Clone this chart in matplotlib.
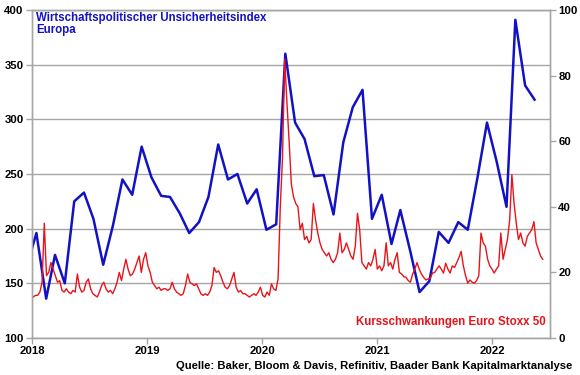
import matplotlib
matplotlib.use("Agg")
import matplotlib.pyplot as plt
import pandas as pd

plt.rcParams['font.family'] = ['Liberation Sans', 'DejaVu Sans']

# Economic policy uncertainty index Europe (monthly, Dec 2017 - May 2022)
epu_start = "2017-12-01"
epu_values = [165, 196, 136, 176, 150, 225, 233, 209, 167, 203, 245, 231, 275,
              247, 230, 229, 214, 196, 206, 229, 277, 245, 250, 223, 236,
              199, 204, 360, 297, 282, 248, 249, 213, 279, 311, 327, 209,
              231, 186, 217, 180, 142, 152, 197, 187, 206, 199, 247, 297,
              261, 220, 391, 331, 318]

# Euro Stoxx 50 volatility (weekly readings, from 2018-01-05)
vol_start = "2018-01-05"
vol_values = [12.5, 13, 13, 14, 17, 35, 19, 20, 23, 21, 19, 17, 17.5, 14.5, 14, 15,
              14, 13.5, 14.5, 14, 19.5, 15.5, 14, 14.5, 17, 18, 15, 13.5, 13, 12.5,
              14, 16, 17, 15, 14, 14.5, 13.5, 15, 17, 20, 17.5, 21, 24, 21, 19,
              19.5, 21, 23, 25, 20, 24, 26, 22, 20, 17, 16, 15, 15.5, 14.5, 15, 15,
              14.5, 15, 17, 15, 14, 13.5, 13, 13.5, 16, 19.5, 17, 16.5, 16, 16.5,
              15, 13.5, 13, 13.5, 13, 14, 16, 21.5, 20, 20.5, 19, 17, 15.5, 15, 16,
              18, 20, 15.5, 14, 14.5, 13.5, 13.5, 13, 12.5, 13, 13.5, 13, 14, 15.5,
              13, 12.5, 14, 13, 16.5, 15, 14.5,
              18, 40, 55, 85, 72, 60, 47, 43, 41, 40, 33, 35, 30, 31, 29, 30, 41, 36,
              32, 29, 27, 26, 25, 26, 24, 23, 24, 26, 32, 26, 27, 29, 27, 25, 24, 28,
              38, 33, 23, 22, 21, 23, 22, 24, 27, 21, 22, 20.5, 22, 29, 22, 23, 21,
              24, 26, 20, 19.5, 18.7, 18.5, 17.5, 17, 19.5, 21, 23, 21, 19.5, 18.5,
              17.7, 18, 18.2, 19.8, 20, 21, 22, 21, 19.8, 22.8, 21, 19.8, 22, 21.5,
              23, 24.5, 26.4, 22, 19, 16.7, 17.7, 17, 16.7, 17.5, 19, 32, 29, 28, 24,
              22, 21, 19.8, 21, 22, 32, 24, 27, 30, 36, 49.8, 41, 35, 30, 32, 29, 28,
              31, 32, 33, 35.5, 29, 27, 25, 24]

year_ticks = ["2018", "2019", "2020", "2021", "2022"]
left_ticks = [100, 150, 200, 250, 300, 350, 400]
right_ticks = [0, 20, 40, 60, 80, 100]

title_left = "Wirtschaftspolitischer Unsicherheitsindex\nEuropa"
title_right = "Kursschwankungen Euro Stoxx 50"
source = "Quelle: Baker, Bloom & Davis, Refinitiv, Baader Bank Kapitalmarktanalyse"

epu_dates = pd.date_range(epu_start, periods=len(epu_values), freq="MS") + pd.Timedelta(days=14)
vol_dates = pd.date_range(vol_start, periods=len(vol_values), freq="W-FRI")

BLUE = "#1212c4"
RED = "#e8141a"
GRID = "#a6a6a6"

fig = plt.figure(figsize=(5.8, 3.75), dpi=100)
ax = fig.add_axes([32/580, 37/375, 518/580, 328/375])
ax2 = ax.twinx()

ax.plot(epu_dates, epu_values, color=BLUE, lw=1.8, zorder=3)
ax2.plot(vol_dates, vol_values, color=RED, lw=1.0, zorder=2)

ax.set_xlim(pd.Timestamp("2018-01-01"), pd.Timestamp("2022-07-03"))
ax.set_ylim(100, 400)
ax2.set_ylim(0, 100)

ax.set_yticks(left_ticks)
ax2.set_yticks(right_ticks)
ax.set_xticks([pd.Timestamp(f"{y}-01-01") for y in year_ticks])
ax.set_xticklabels(year_ticks)

ax.grid(axis="y", color=GRID, lw=1.0)
ax.set_axisbelow(True)

for a in (ax, ax2):
    for s in a.spines.values():
        s.set_color(GRID)
        s.set_linewidth(1.0)
    a.tick_params(colors="black", labelsize=8.2, length=4, width=1.0, color=GRID)
    for lab in a.get_xticklabels() + a.get_yticklabels():
        lab.set_fontweight("bold")
ax.tick_params(axis="y", pad=2)
ax2.tick_params(axis="y", pad=2)
ax.tick_params(axis="x", pad=2)

ax.text(0.008, 0.995, title_left, transform=ax.transAxes, color=BLUE,
        fontsize=8.3, fontweight="bold", va="top", ha="left", linespacing=1.0)
ax.text(0.992, 0.03, title_right, transform=ax.transAxes, color=RED,
        fontsize=8.3, fontweight="bold", va="bottom", ha="right")
fig.text(572/580, 1 - 366/375, source, color="black", fontsize=8.1,
         fontweight="bold", ha="right", va="center")

fig.savefig("out.png", dpi=100)
